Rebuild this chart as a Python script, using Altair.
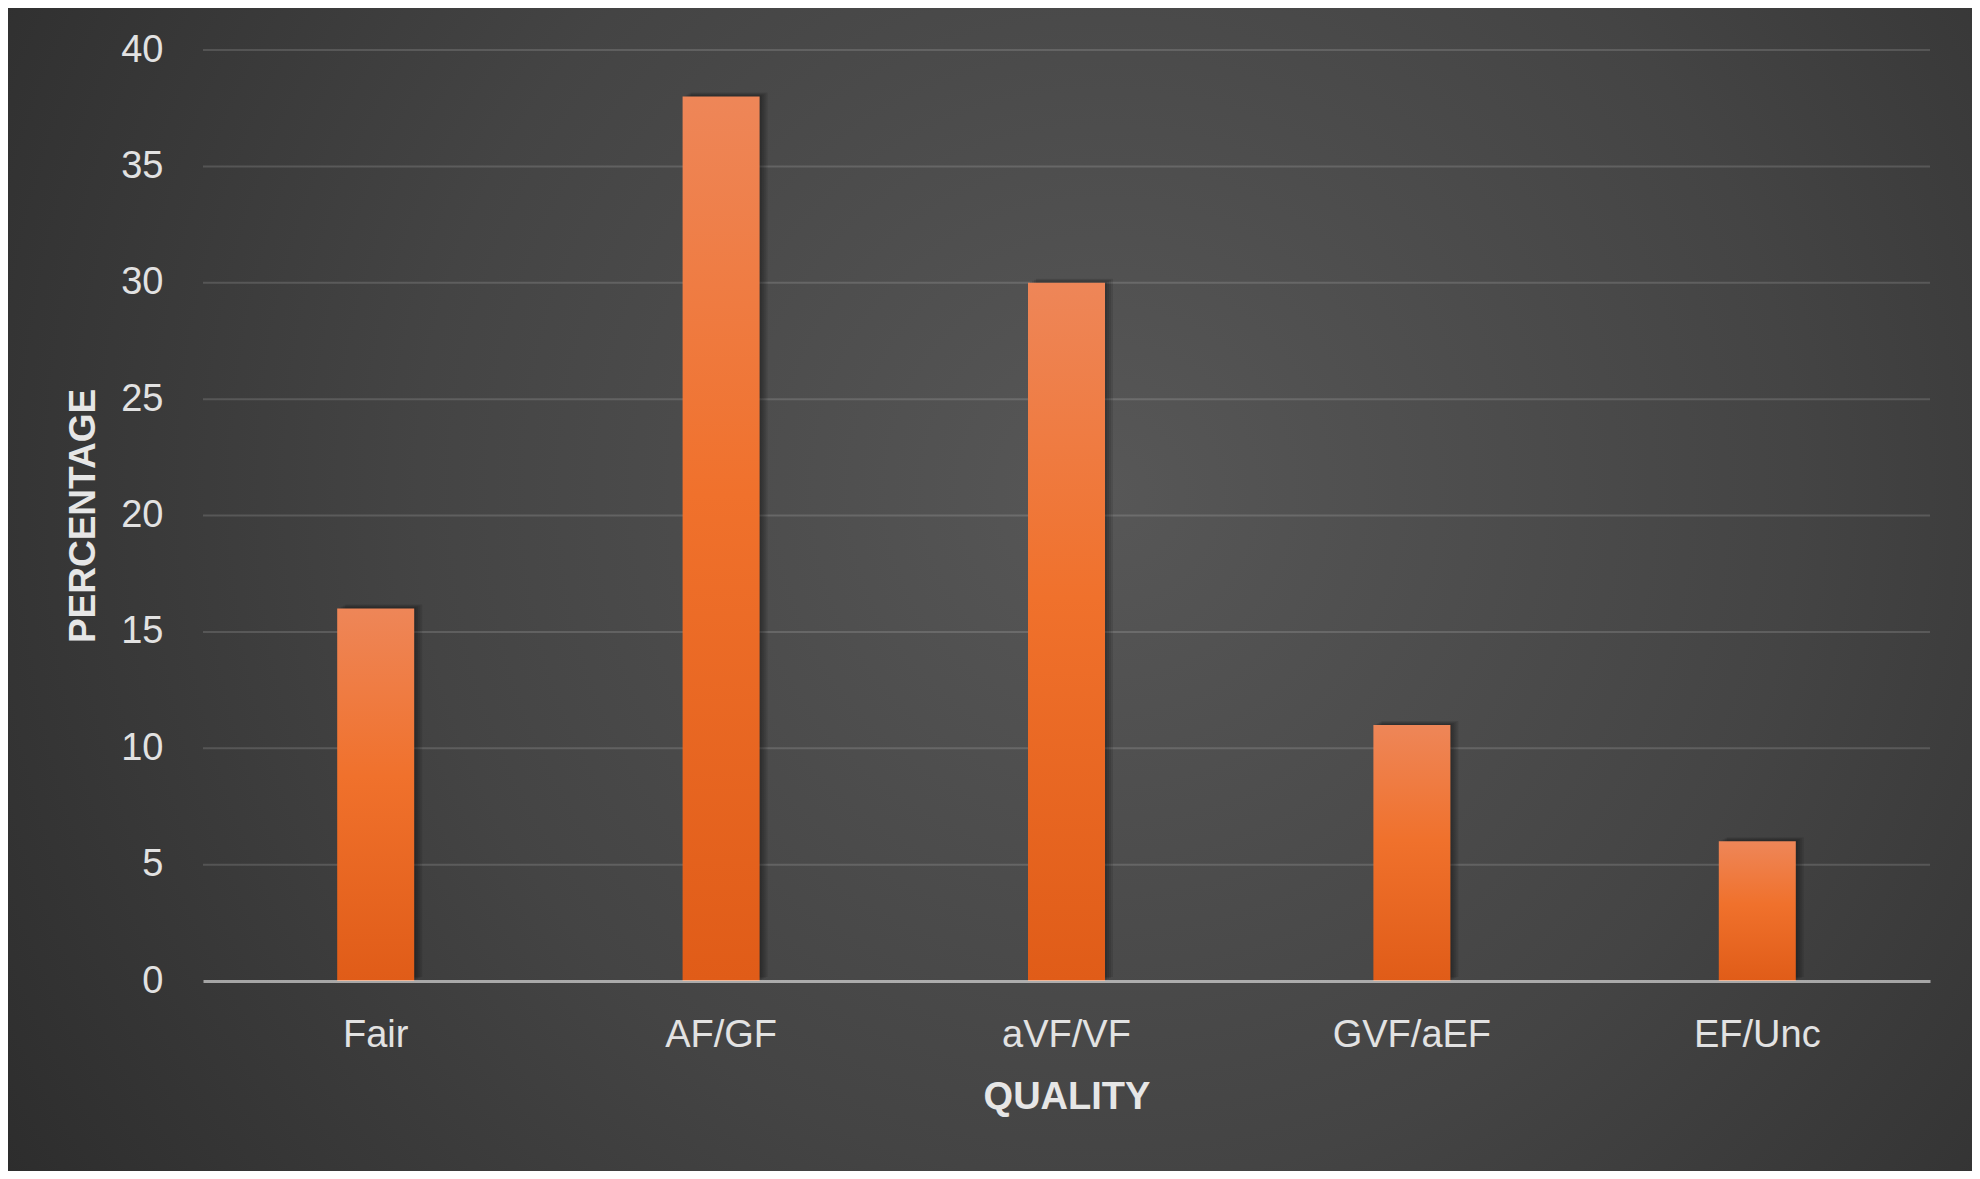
import altair as alt
import pandas as pd

categories = ["Fair", "AF/GF", "aVF/VF", "GVF/aEF", "EF/Unc"]
percentages = [16, 38, 30, 11, 6]
grid_values = [5, 10, 15, 20, 25, 30, 35, 40]

W, H = 1727, 931
PAD = {"left": 195, "top": 42, "right": 42, "bottom": 190}

df = pd.DataFrame({"quality": categories, "pct": percentages})
grid_df = pd.DataFrame({"pct": grid_values})
bg_df = pd.DataFrame({"a": [0]})

FONT = "Liberation Sans"

bg_gradient = {
    "gradient": "radial",
    "x1": 0.56, "y1": 0.45, "r1": 0,
    "x2": 0.56, "y2": 0.45, "r2": 0.78,
    "stops": [
        {"offset": 0, "color": "#575757"},
        {"offset": 0.45, "color": "#444444"},
        {"offset": 1, "color": "#242424"},
    ],
}

bar_gradient = {
    "gradient": "linear",
    "x1": 0, "y1": 0, "x2": 0, "y2": 1,
    "stops": [
        {"offset": 0, "color": "#EE8658"},
        {"offset": 0.45, "color": "#F0712C"},
        {"offset": 1, "color": "#E05C18"},
    ],
}

x_enc = alt.X(
    "quality:N",
    sort=categories,
    scale=alt.Scale(paddingInner=0, paddingOuter=0),
    axis=alt.Axis(
        title="QUALITY",
        labelAngle=0,
        ticks=False,
        grid=False,
        domain=True,
        domainColor="#ffffff",
        domainOpacity=0.55,
        domainWidth=3,
        labelFont=FONT,
        labelFontSize=38,
        labelColor="#e2e2e2",
        labelPadding=35,
        titleFont=FONT,
        titleFontSize=38,
        titleFontWeight="bold",
        titleColor="#e6e6e6",
        titlePadding=24,
        zindex=1,
    ),
)

y_enc = alt.Y(
    "pct:Q",
    scale=alt.Scale(domain=[0, 40], nice=False),
    axis=alt.Axis(
        title="PERCENTAGE",
        values=[0, 5, 10, 15, 20, 25, 30, 35, 40],
        ticks=False,
        grid=False,
        domain=False,
        labelFont=FONT,
        labelFontSize=38,
        labelColor="#e2e2e2",
        labelPadding=40,
        titleFont=FONT,
        titleFontSize=37,
        titleFontWeight="bold",
        titleColor="#e6e6e6",
        titlePadding=18,
        zindex=1,
    ),
)

background = alt.Chart(bg_df).mark_rect(color=bg_gradient).encode(
    x=alt.value(-PAD["left"]),
    x2=alt.value(W + PAD["right"]),
    y=alt.value(-PAD["top"]),
    y2=alt.value(H + PAD["bottom"]),
)

grid = alt.Chart(grid_df).mark_rule(color="#ffffff", opacity=0.14, strokeWidth=2).encode(
    y=y_enc
)

shadows = [
    alt.Chart(df).mark_bar(size=77, color="#000000", opacity=0.1, xOffset=off, yOffset=-off / 2).encode(
        x=x_enc, y=y_enc
    )
    for off in (2, 4, 6, 8)
]

bars = alt.Chart(df).mark_bar(size=77, color=bar_gradient).encode(x=x_enc, y=y_enc)

chart = alt.layer(background, grid, *shadows, bars).properties(
    width=W,
    height=H,
    padding=PAD,
    autosize=alt.AutoSizeParams(type="none"),
    background="#2c2c2c",
).configure_view(stroke=None)

chart.save("out.html", embed_options={"renderer": "svg", "actions": False})
